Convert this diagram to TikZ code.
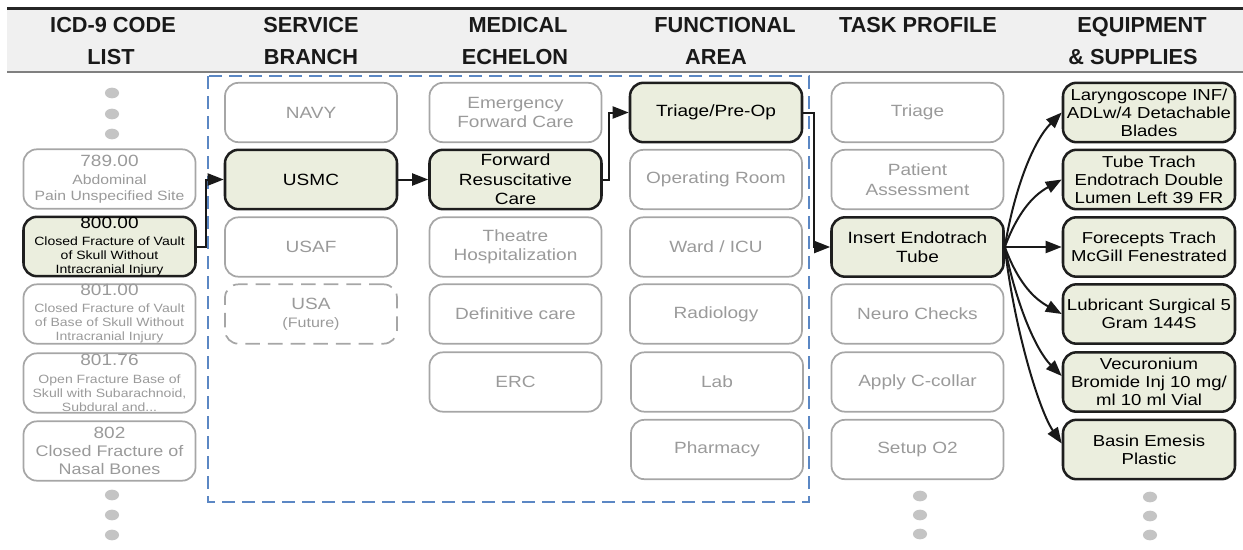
\documentclass[tikz,border=0pt]{standalone}
\usepackage{fontspec}
\setmainfont{Liberation Sans}
\newfontfamily\boxfont{Liberation Sans}[FakeStretch=1.17]
\usetikzlibrary{arrows.meta}
\definecolor{hdrfill}{HTML}{F0F0F0}
\definecolor{hdrline}{HTML}{808080}
\definecolor{boxline}{HTML}{A6A6A6}
\definecolor{boxtext}{HTML}{9A9A9A}
\definecolor{selfill}{HTML}{EBEEDE}
\definecolor{selline}{HTML}{1E1E1E}
\definecolor{scopeblue}{HTML}{5B87C4}
\definecolor{dotgray}{HTML}{C4C4C4}

\begin{document}
\begin{tikzpicture}[x=0.75pt,y=-0.75pt,
  card/.style={rectangle, rounded corners=10pt, minimum width=129pt,
    minimum height=44.5pt, inner xsep=1pt, inner ysep=0pt, align=center,
    font=\boxfont\fontsize{12.2}{14.6}\selectfont},
  idle/.style={card, draw=boxline, line width=1.3pt, text=boxtext},
  chosen/.style={card, draw=selline, line width=1.9pt, fill=selfill, text=black},
  future/.style={idle, dash pattern=on 11pt off 6pt},
  kit/.style={chosen, font=\boxfont\fontsize{11.9}{13.5}\selectfont},
  codesmall/.style={font=\boxfont\fontsize{9}{10.5}\selectfont},
  hdr/.style={font=\bfseries\fontsize{16.3}{18}\selectfont, text=black!90,
    inner sep=0pt, anchor=base},
  link/.style={line width=1.5pt, draw=black!90, -{Triangle[length=12pt,width=9pt]}},
  more/.style={fill=dotgray}
]
\useasboundingbox (0,0) rectangle (1243,550);

% header band
\fill[hdrfill] (7,9) rectangle (1243,72);
\draw[line width=2.2pt, black!85] (7,8.5) -- (1243,8.5);
\draw[hdrline, line width=1.3pt] (7,72) -- (1243,72);

\node[hdr] (h1a) at (113,32) {ICD-9 CODE};
\node[hdr] (h1b) at (111,64) {LIST};
\node[hdr] (h2a) at (311,32) {SERVICE};
\node[hdr] (h2b) at (311,64) {BRANCH};
\node[hdr] (h3a) at (518,32) {MEDICAL};
\node[hdr] (h3b) at (515,64) {ECHELON};
\node[hdr] (h4a) at (725,32) {FUNCTIONAL};
\node[hdr] (h4b) at (716,64) {AREA};
\node[hdr] (h5a) at (918,32) {TASK PROFILE};
\node[hdr] (h6a) at (1142,32) {EQUIPMENT};
\node[hdr] (h6b) at (1133,64) {\& SUPPLIES};

% scope of the organisational columns
\draw[scopeblue, line width=1.5pt, dash pattern=on 10pt off 5pt] (208,76) rectangle (809,502);

% ICD-9 codes
\node[idle, font=\boxfont\fontsize{10.1}{12}\selectfont] (icd789) at (109.5,179)
  {{\fontsize{12.2}{14}\selectfont 789.00}\\[1.5pt]Abdominal\\Pain Unspecified Site};
\node[chosen, codesmall] (icd800) at (109.5,246.5)
  {{\fontsize{12.2}{14}\selectfont 800.00}\\[2.25pt]Closed Fracture of Vault\\of Skull Without\\Intracranial Injury};
\node[idle, codesmall] (icd801) at (109.5,314)
  {{\fontsize{12.2}{14}\selectfont 801.00}\\[2.25pt]Closed Fracture of Vault\\of Base of Skull Without\\Intracranial Injury};
\node[idle, codesmall] (icd80176) at (109.5,383)
  {{\fontsize{12.2}{14}\selectfont 801.76}\\[3pt]Open Fracture Base of\\Skull with Subarachnoid,\\Subdural and...};
\node[idle, font=\boxfont\fontsize{11.5}{13.5}\selectfont] (icd802) at (109.5,451)
  {{\fontsize{12.2}{14}\selectfont 802}\\Closed Fracture of\\Nasal Bones};

% service branch
\node[idle]   (navy) at (311,112.5) {NAVY};
\node[chosen] (usmc) at (311,179.5) {USMC};
\node[idle]   (usaf) at (311,247)   {USAF};
\node[future] (usa)  at (311,314)   {USA\\[-1pt]{\fontsize{10.3}{12}\selectfont (Future)}};

% medical echelon
\node[idle]   (efc)     at (515.5,112.5) {Emergency\\Forward Care};
\node[chosen] (frc)     at (515.5,179.5) {Forward\\Resuscitative\\Care};
\node[idle]   (theatre) at (515.5,247)   {Theatre\\Hospitalization};
\node[idle]   (defcare) at (515.5,314)   {Definitive care};
\node[idle]   (erc)     at (515.5,382)   {ERC};

% functional area
\node[chosen] (tpo)      at (716,112.5) {Triage/Pre-Op};
\node[idle]   (oproom)   at (716,179.5) {Operating Room};
\node[idle]   (ward)     at (716,247)   {Ward / ICU};
\node[idle]   (radio)    at (716,314)   {Radiology};
\node[idle]   (lab)      at (717,382)   {Lab};
\node[idle]   (pharmacy) at (717,449.5) {Pharmacy};

% task profile
\node[idle]   (triage)  at (917.5,112.5) {Triage};
\node[idle]   (patient) at (917.5,179.5) {Patient\\Assessment};
\node[chosen] (endo)    at (917.5,247)   {Insert Endotrach\\Tube};
\node[idle]   (neuro)   at (917.5,314)   {Neuro Checks};
\node[idle]   (collar)  at (917.5,382)   {Apply C-collar};
\node[idle]   (oxygen)  at (917.5,449.5) {Setup O2};

% equipment and supplies
\node[kit] (kit1) at (1149,112.5) {Laryngoscope INF/\\ADLw/4 Detachable\\Blades};
\node[kit] (kit2) at (1149,179.5) {Tube Trach\\Endotrach Double\\Lumen Left 39 FR};
\node[kit] (kit3) at (1149,247)   {Forecepts Trach\\McGill Fenestrated};
\node[kit] (kit4) at (1149,314)   {Lubricant Surgical 5\\Gram 144S};
\node[kit] (kit5) at (1149,382)   {Vecuronium\\Bromide Inj 10 mg/\\ml 10 ml Vial};
\node[kit] (kit6) at (1149,449.5) {Basin Emesis\\Plastic};

% continuation marks
\foreach \y in {93,114,134,495,515,535}
  \fill[more] (112,\y) ellipse [x radius=5.3pt, y radius=4pt];
\foreach \y in {496,515,534}
  \fill[more] (920,\y) ellipse [x radius=5.3pt, y radius=4pt];
\foreach \y in {497,516,535}
  \fill[more] (1150,\y) ellipse [x radius=5.3pt, y radius=4pt];

% selection path
\draw[link] (icd800.east) -- ++(9,0) |- (usmc.west);
\draw[link] (usmc.east) -- (frc.west);
\draw[link] (frc.east) -- ++(6,0) |- (tpo.west);
\draw[link] (tpo.east) -- ++(11,0) |- (endo.west);

% task to supplies
\draw[link] (endo.east) .. controls +(10,-60) and +(-28,28) .. (kit1.west);
\draw[link] (endo.east) .. controls +(15,-40) and +(-25,14) .. (kit2.west);
\draw[link] (endo.east) -- (kit3.west);
\draw[link] (endo.east) .. controls +(15,40) and +(-25,-14) .. (kit4.west);
\draw[link] (endo.east) .. controls +(12,60) and +(-25,-25) .. ([yshift=4.5pt]kit5.west);
\draw[link] (endo.east) .. controls +(10,85) and +(-22,-32) .. ([yshift=4.5pt]kit6.west);
\end{tikzpicture}
\end{document}
